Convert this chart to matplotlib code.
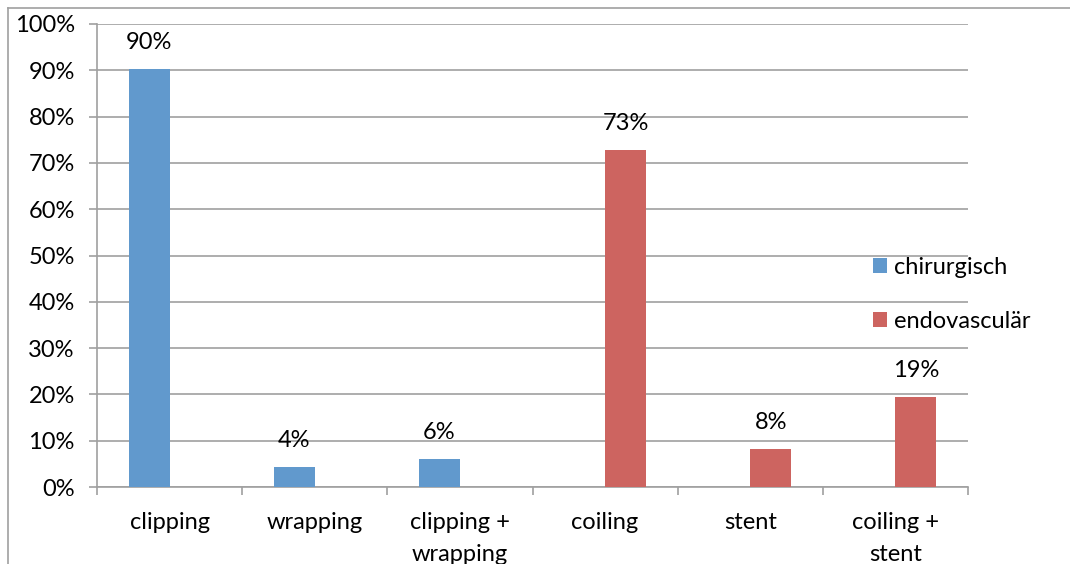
import numpy as np
import matplotlib
matplotlib.use("Agg")
import matplotlib.pyplot as plt
from matplotlib.lines import Line2D
from matplotlib.ticker import FuncFormatter

plt.rcParams['font.family'] = ['Lato', 'DejaVu Sans']

categories = ["clipping", "wrapping", "clipping +\nwrapping", "coiling", "stent", "coiling +\nstent"]
chirurgisch = [90.2, 4.3, 6.0, 0, 0, 0]
endovascular = [0, 0, 0, 72.7, 8.1, 19.4]
labels_chir = ["90%", "4%", "6%", "", "", ""]
labels_endo = ["", "", "", "73%", "8%", "19%"]

blue = "#6199cd"
red = "#cd6460"
grid = "#a0a0a0"
fs = 17

fig = plt.figure(figsize=(10.7, 5.64), dpi=100)
ax = fig.add_axes([97 / 1070, 1 - 487 / 564, (968 - 97) / 1070, (487 - 24) / 564])

x = np.arange(len(categories))
w = 0.283
ax.bar(x - w / 2, chirurgisch, w, color=blue, label="chirurgisch", zorder=3)
ax.bar(x + w / 2, endovascular, w, color=red, label="endovasculär", zorder=3)

for i in range(len(categories)):
    if labels_chir[i]:
        ax.annotate(labels_chir[i], (x[i] - w / 2, chirurgisch[i]), xytext=(0, 27),
                    textcoords="offset pixels", ha="center", va="center", fontsize=fs)
    if labels_endo[i]:
        ax.annotate(labels_endo[i], (x[i] + w / 2, endovascular[i]), xytext=(0, 27),
                    textcoords="offset pixels", ha="center", va="center", fontsize=fs)

ax.set_xlim(-0.5, len(categories) - 0.5)
ax.set_ylim(0, 100)
ax.set_yticks(np.arange(0, 101, 10))
ax.yaxis.set_major_formatter(FuncFormatter(lambda v, p: f"{v:.0f}%"))
ax.yaxis.grid(True, color=grid, linewidth=1.2, zorder=0)
ax.set_axisbelow(True)

ax.set_xticks(x)
ax.set_xticklabels(categories, fontsize=fs, linespacing=1.65)
ax.set_xticks(np.arange(-0.5, len(categories), 1), minor=True)
ax.tick_params(axis="x", which="major", length=0, pad=18)
ax.tick_params(axis="x", which="minor", length=6, color=grid, width=1.2)
ax.tick_params(axis="y", length=6, color=grid, width=1.2, labelsize=fs, pad=10)

for s in ["top", "right"]:
    ax.spines[s].set_visible(False)
for s in ["left", "bottom"]:
    ax.spines[s].set_color(grid)
    ax.spines[s].set_linewidth(1.2)

leg = ax.legend(loc="upper left", bbox_to_anchor=(0.88, 0.518), frameon=False, fontsize=fs,
                handlelength=0.6, handleheight=0.6, handletextpad=0.3, labelspacing=1.4,
                borderaxespad=0)

# outer chart border (top and left visible)
fig.add_artist(Line2D([7.5 / 1070, 7.5 / 1070], [0, 1 - 8 / 564], color=grid, linewidth=1.2))
fig.add_artist(Line2D([7.5 / 1070, 1], [1 - 8 / 564, 1 - 8 / 564], color=grid, linewidth=1.2))

fig.savefig("out.png", dpi=100)
